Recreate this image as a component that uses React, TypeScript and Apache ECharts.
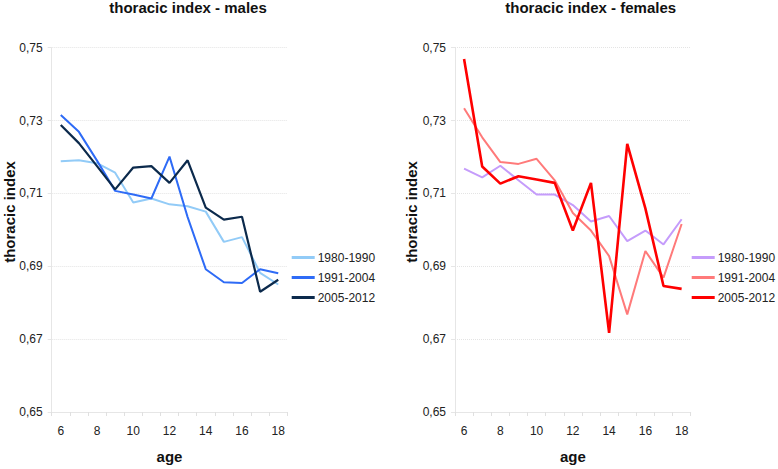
import React, { useEffect, useRef } from "react";
import * as echarts from "echarts";

const ages = ["6", "7", "8", "9", "10", "11", "12", "13", "14", "15", "16", "17", "18"];
const periods = ["1980-1990", "1991-2004", "2005-2012"];

const males1980 = [0.7188, 0.7191, 0.7183, 0.7157, 0.7075, 0.7086, 0.707, 0.7065, 0.705, 0.6967, 0.698, 0.6882, 0.685];
const males1991 = [0.7315, 0.7269, 0.719, 0.7107, 0.7097, 0.7086, 0.7201, 0.7035, 0.6892, 0.6856, 0.6854, 0.6892, 0.6881];
const males2005 = [0.7288, 0.7238, 0.7175, 0.7111, 0.7171, 0.7175, 0.7129, 0.7191, 0.7061, 0.7028, 0.7036, 0.683, 0.6863];

const females1980 = [0.7168, 0.7144, 0.7176, 0.7136, 0.7097, 0.7097, 0.7068, 0.7023, 0.7038, 0.6969, 0.6998, 0.696, 0.7029];
const females1991 = [0.7334, 0.7254, 0.7186, 0.7181, 0.7195, 0.7136, 0.7046, 0.6998, 0.6928, 0.6768, 0.6942, 0.6869, 0.7016];
const females2005 = [0.7469, 0.7174, 0.7127, 0.7147, 0.7138, 0.7129, 0.6998, 0.7129, 0.6717, 0.7236, 0.7059, 0.6846, 0.6838];

const yTicks = { min: 0.65, max: 0.75, interval: 0.02 };

const maleColors = ["#92CBF7", "#2E6BF6", "#0C2A4C"];
const femaleColors = ["#C59CFB", "#FF7A7A", "#FF0000"];
const maleWidths = [2, 2, 2.2];
const femaleWidths = [2, 2, 2.6];

const FONT = "Liberation Sans";

export default function App() {
  const ref = useRef<HTMLDivElement>(null);
  useEffect(() => {
    if (!ref.current) return;
    const chart = echarts.init(ref.current, undefined, { renderer: "svg" });
    const grids = [
      { left: 51.7, top: 47.7, width: 235.6, height: 368.3 },
      { left: 455, top: 47.7, width: 235.7, height: 368.3 },
    ];
    const xAxis = [0, 1].map((i) => ({
      type: "category",
      gridIndex: i,
      data: ages,
      boundaryGap: true,
      name: "age",
      nameLocation: "middle",
      nameGap: 37,
      nameTextStyle: { fontFamily: FONT, fontSize: 15, fontWeight: "bold", color: "#111" },
      axisLine: { lineStyle: { color: "#e6e6e6" } },
      axisTick: { show: true, interval: 0, length: 4, lineStyle: { color: "#e0e0e0" } },
      axisLabel: { interval: 1, margin: 13, fontFamily: FONT, fontSize: 12, color: "#222" },
      splitLine: { show: false },
    }));
    const yAxis = [0, 1].map((i) => ({
      type: "value",
      gridIndex: i,
      min: yTicks.min,
      max: yTicks.max,
      interval: yTicks.interval,
      axisLine: { show: true, lineStyle: { color: "#e6e6e6" } },
      axisTick: { show: true, length: 4, lineStyle: { color: "#e6e6e6" } },
      axisLabel: {
        margin: 9,
        fontFamily: FONT,
        fontSize: 12,
        color: "#222",
        formatter: (v: number) => v.toFixed(2).replace(".", ","),
      },
      splitLine: { show: true, lineStyle: { color: "#e4e4e4", type: "dotted" } },
    }));
    const mk = (name: string, data: number[], color: string, width: number, idx: number) => ({
      type: "line",
      name,
      data,
      xAxisIndex: idx,
      yAxisIndex: idx,
      symbol: "none",
      lineStyle: { color, width },
      itemStyle: { color },
    });
    const maleData = [males1980, males1991, males2005];
    const femaleData = [females1980, females1991, females2005];
    const series = [
      ...periods.map((p, k) => mk(p, maleData[k], maleColors[k], maleWidths[k], 0)),
      ...periods.map((p, k) => mk(p + " ", femaleData[k], femaleColors[k], femaleWidths[k], 1)),
    ];
    const legendBase = {
      orient: "vertical",
      icon: "rect",
      itemWidth: 23,
      itemHeight: 3,
      itemGap: 8,
      padding: 0,
      top: 251.5,
      textStyle: { fontFamily: FONT, fontSize: 12, color: "#222", padding: [0, 0, 0, -2] },
      formatter: (n: string) => n.trim(),
    };
    const titleStyle = { fontFamily: FONT, fontSize: 15, fontWeight: "bold", color: "#111" };
    chart.setOption({
      animation: false,
      backgroundColor: "#ffffff",
      title: [
        {
          text: "thoracic index - males",
          left: 188,
          top: 0,
          padding: 0,
          textAlign: "center",
          textStyle: titleStyle,
        },
        {
          text: "thoracic index - females",
          left: 590.7,
          top: 0,
          padding: 0,
          textAlign: "center",
          textStyle: titleStyle,
        },
      ],
      grid: grids,
      xAxis,
      yAxis,
      legend: [
        { ...legendBase, left: 291.7, data: periods },
        { ...legendBase, left: 691.7, data: periods.map((p) => p + " ") },
      ],
      graphic: [
        {
          type: "text",
          x: 9,
          y: 212,
          rotation: Math.PI / 2,
          style: {
            text: "thoracic index",
            fontFamily: FONT,
            fontSize: 15,
            fontWeight: "bold",
            fill: "#111",
            textAlign: "center",
            textVerticalAlign: "middle",
          },
        },
        {
          type: "text",
          x: 411.7,
          y: 212,
          rotation: Math.PI / 2,
          style: {
            text: "thoracic index",
            fontFamily: FONT,
            fontSize: 15,
            fontWeight: "bold",
            fill: "#111",
            textAlign: "center",
            textVerticalAlign: "middle",
          },
        },
      ],
      series,
    });
    return () => chart.dispose();
  }, []);
  return (
    <div
      ref={ref}
      style={{ position: "absolute", left: 0, top: 0, width: 778, height: 469 }}
    />
  );
}
